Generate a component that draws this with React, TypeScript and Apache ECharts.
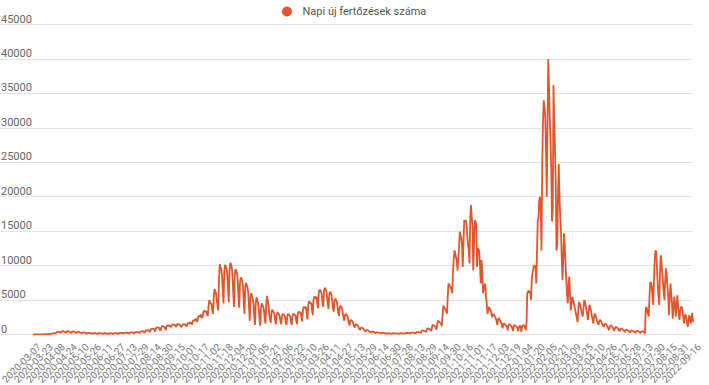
import React, { useEffect, useRef } from "react";
import * as echarts from "echarts";

const SERIES_NAME = "Napi új fertőzések száma";

// Reporting days (the source skips some dates), each [first, last] inclusive
const DATE_SEGMENTS: [string, string][] = [
  ["2020-03-07", "2021-06-30"],
  ["2021-07-13", "2022-06-12"],
  ["2022-07-13", "2022-07-13"],
  ["2022-07-15", "2022-09-16"],
];

const Y_MIN = 0;
const Y_MAX = 45000;
const Y_STEP = 5000;
const LABEL_EVERY = 16;

// Daily new infections
const wave2020Spring = [
  2, 1, 0, 5, 7, 9, 11,
  13, 8, 3, 11, 18, 25, 30,
  35, 20, 14, 40, 55, 60, 65,
  80, 60, 35, 90, 120, 150, 160,
  200, 150, 120, 250, 330, 350, 380,
  420, 300, 220, 400, 500, 480, 450,
  430, 320, 240, 420, 520, 470, 440,
  400, 300, 230, 380, 460, 430, 400,
  380, 280, 200, 330, 400, 380, 350,
  300, 220, 150, 260, 300, 280, 260,
  240, 180, 120, 200, 240, 230, 210,
  200, 150, 100, 180, 210, 200, 190,
  180, 140, 90, 160, 200, 190, 170,
  170, 130, 90, 150, 190, 180, 160,
  160, 120, 80, 150, 180, 170, 160,
  170, 130, 90, 160, 200, 190, 180,
  200, 150, 100, 190, 240, 230, 220,
  240, 180, 120, 230, 280, 270, 250,
  280, 200, 140, 260, 320, 310, 290,
  320, 230, 160, 300, 380, 360, 340,
  380, 280, 200, 380, 470, 450, 430,
  480, 350, 260, 500, 620, 600, 580,
  640, 480, 350, 680, 850, 820, 800,
  850, 620, 450, 880, 1050, 1020, 980,
  1000, 750, 550, 1000, 1200, 1180, 1150,
  1150, 880, 650, 1150, 1350, 1300, 1250,
  1350, 1200, 1050, 1350, 1500, 1450, 1400,
];

const wave2020Autumn = [
  1400, 1250, 1100, 1400, 1550, 1500, 1450,
  1400, 1200, 1050, 1350, 1500, 1480, 1420,
  1500, 1300, 1200, 1550, 1700, 1650, 1600,
  1800, 1600, 1450, 1900, 2100, 2050, 2000,
  2300, 2050, 1850, 2400, 2700, 2650, 2550,
  2900, 2600, 2400, 3100, 3500, 3400, 3300,
  3400, 3000, 2700, 4000, 5000, 4700, 4500,
  4400, 3600, 3000, 5200, 6600, 6300, 6000,
  5000, 4200, 3500, 8000, 10200, 9800, 9500,
  8500, 6500, 4500, 9000, 10100, 9900, 9600,
  8800, 6800, 4700, 9200, 10400, 10200, 9800,
  8500, 6000, 4000, 8500, 9500, 9300, 9000,
  7800, 5500, 3900, 7500, 8300, 8100, 7800,
  7000, 4800, 3000, 6800, 7500, 7200, 6800,
  6000, 4000, 2000, 5500, 6000, 5600, 5200,
  4500, 2500, 1400, 4500, 5400, 5000, 4600,
  3800, 2200, 1300, 3800, 4500, 4300, 4000,
  3500, 2200, 1600, 4500, 5600, 5000, 4200,
  3000, 2200, 1700, 3200, 3600, 3400, 3200,
  2800, 2000, 1500, 2900, 3200, 3100, 2900,
  2600, 1900, 1500, 2700, 3000, 2900, 2800,
  2600, 1800, 1400, 2700, 3000, 2900, 2750,
  2600, 1800, 1400, 2700, 3000, 2950, 2800,
  2800, 2000, 1500, 3000, 3300, 3200, 3100,
];

const wave2021Spring = [
  3300, 2500, 1900, 3600, 4000, 3900, 3800,
  4000, 3000, 2200, 4300, 4800, 4700, 4500,
  4600, 3600, 2800, 5000, 5500, 5400, 5200,
  5500, 4500, 3800, 6000, 6500, 6400, 6200,
  5800, 4600, 4000, 6300, 6800, 6600, 6400,
  5600, 4400, 3700, 5800, 6200, 6000, 5800,
  4800, 3800, 3300, 4900, 5200, 5000, 4800,
  4000, 3200, 2700, 3900, 4200, 4000, 3800,
  3100, 2400, 2000, 2800, 3000, 2900, 2700,
  2300, 1700, 1300, 2000, 2100, 2000, 1900,
  1600, 1200, 1000, 1400, 1500, 1400, 1300,
  1100, 800, 650, 950, 1000, 950, 900,
  750, 550, 450, 620, 650, 620, 580,
  480, 360, 300, 400, 420, 400, 380,
  330, 250, 200, 290, 300, 280, 260,
  240, 180, 150, 220, 240, 220, 200,
  190, 140, 120, 180, 200, 180, 170,
  170, 130, 100, 160, 180, 170, 160,
];

const wave2021Autumn = [
  150, 170, 160, 150, 140, 130, 100,
  160, 190, 180, 170, 160, 150, 110,
  190, 230, 220, 210, 200, 180, 130,
  240, 290, 280, 270, 250, 230, 160,
  300, 380, 360, 340, 320, 290, 200,
  480, 600, 580, 550, 500, 450, 350,
  700, 900, 870, 830, 760, 680, 500,
  1050, 1400, 1350, 1250, 1150, 1000, 700,
  1500, 2000, 1900, 1800, 1700, 1600, 1200,
  2600, 4200, 4000, 3800, 3600, 3400, 3000,
  5500, 7400, 7200, 7000, 6800, 6500, 6000,
  9000, 11000, 12200, 11800, 11200, 10800, 9300,
  11000, 12500, 14900, 14500, 14000, 13000, 9800,
  13500, 16600, 16400, 16600, 16000, 14500, 13000,
  12200, 10300, 17000, 18800, 17000, 15600, 9300,
  13000, 16600, 16400, 16000, 9800, 12500, 12400,
  12000, 10000, 7400, 10800, 9500, 6000, 6500,
  7000, 7400, 5500, 4500, 3000, 3500, 4000,
  3800, 3500, 3200, 2500, 2800, 3000, 2800,
  2600, 2300, 2000, 1400, 2200, 2400, 2200,
  2000, 1800, 1500, 900, 1500, 1600, 1500,
  1400, 1300, 1100, 600, 1300, 1500, 1400,
  1300, 1200, 1000, 500, 1200, 1400, 1300,
  1200, 1100, 900, 450, 1100, 1300, 1200,
  400, 1000, 1300, 1400, 1300, 1100, 600,
];

const wave2022Omicron = [
  1500, 6000, 6200, 6400, 6000, 6300, 5000,
  8000, 8900, 9500, 10000, 10000, 9800, 7400,
  12000, 16600, 17000, 19500, 20000, 18000, 12200,
  25000, 31000, 34000, 33000, 31600, 27000, 20000,
  30000, 40000, 36000, 31600, 28000, 24000, 16400,
  18000, 36200, 31000, 26800, 22000, 12200, 13000,
  20000, 24800, 20000, 17000, 14900, 11000, 7900,
  11000, 14700, 13000, 10300, 8000, 6000, 4500,
  7000, 8400, 6000, 3500, 4500, 5500, 5000,
  4700, 4000, 3500, 3000, 2500, 1800, 3500,
  4700, 4500, 4000, 3500, 3000, 2600, 3800,
  5000, 4700, 4200, 3500, 2800, 2100, 3500,
  4300, 4000, 3500, 2800, 2200, 1600, 2500,
  3050, 2800, 2400, 2000, 1700, 1400, 1900,
  2100, 2000, 1800, 1500, 1300, 1100, 1400,
  1600, 1500, 1300, 1100, 900, 630, 1100,
  1350, 1300, 1150, 1000, 850, 500, 900,
  1100, 1050, 950, 850, 700, 450, 750,
  870, 820, 750, 650, 550, 350, 600,
  700, 650, 600, 550, 450, 250, 500,
  600, 550, 500, 450, 400, 200, 450,
  550, 500, 450, 400, 350, 180, 400,
];

const wave2022Summer = [
  500, 450, 400, 300, 150, 3800, 4000,
  3500, 3000, 2600, 5500, 7600, 7500, 7000,
  5500, 4300, 8000, 11000, 12200, 12000, 9600,
  7000, 5500, 4300, 9000, 11500, 10500, 8900,
  7500, 6000, 5000, 8000, 9600, 8500, 6900,
  5500, 2800, 5500, 7400, 6000, 4500, 2300,
  4000, 5500, 4500, 2600, 4000, 5700, 4500,
  3000, 2100, 3500, 4000, 4000, 3500, 2500,
  1600, 2500, 3000, 2500, 1800, 1100, 2000,
  2800, 2200, 1600, 2500, 3150, 1800,
];

const dailyCases = [
  ...wave2020Spring,
  ...wave2020Autumn,
  ...wave2021Spring,
  ...wave2021Autumn,
  ...wave2022Omicron,
  ...wave2022Summer,
];

function buildDates(segments: [string, string][]): string[] {
  const out: string[] = [];
  for (const [s, e] of segments) {
    const d = new Date(s + "T00:00:00Z");
    const end = new Date(e + "T00:00:00Z");
    while (d.getTime() <= end.getTime()) {
      out.push(d.toISOString().slice(0, 10));
      d.setUTCDate(d.getUTCDate() + 1);
    }
  }
  return out;
}

const categories = buildDates(DATE_SEGMENTS);

const LINE_COLOR = "#e2562e";
const FONT = "Roboto, Arial, sans-serif";

export default function App() {
  const ref = useRef<HTMLDivElement>(null);

  useEffect(() => {
    document.body.style.margin = "0";
    if (!ref.current) return;
    const chart = echarts.init(ref.current, undefined, { renderer: "svg" });
    const gridPos = {
      right: 16,
      top: 24.5,
      bottom: 50.5,
      containLabel: false,
      outerBoundsMode: "none",
    };
    chart.setOption({
      animation: false,
      backgroundColor: "#ffffff",
      textStyle: { fontFamily: FONT },
      legend: {
        data: [SERIES_NAME],
        top: 1,
        left: 277,
        icon: "circle",
        itemWidth: 21,
        itemHeight: 10,
        textStyle: { fontSize: 11, color: "#555555", fontFamily: FONT },
      },
      grid: [
        { left: 0, ...gridPos },
        { left: 33, ...gridPos },
      ],
      xAxis: [
        { type: "value", gridIndex: 0, show: false, min: 0, max: 1 },
        {
          type: "category",
          gridIndex: 1,
          data: categories,
          boundaryGap: false,
          axisLine: { show: false },
          axisTick: { show: false },
          splitLine: { show: false },
          axisLabel: {
            interval: 0,
            formatter: (value: string, index: number) =>
              index % LABEL_EVERY === 0 ? value : "",
            rotate: 45,
            fontSize: 10,
            lineHeight: 10,
            verticalAlign: "top",
            padding: [4, 0, 0, 0],
            color: "#777777",
            margin: 4.5,
            fontFamily: FONT,
            hideOverlap: false,
          },
        },
      ],
      yAxis: [
        {
          type: "value",
          gridIndex: 0,
          min: Y_MIN,
          max: Y_MAX,
          interval: Y_STEP,
          axisLine: { show: false },
          axisTick: { show: false },
          axisLabel: {
            inside: true,
            margin: 1,
            verticalAlign: "bottom",
            color: "#666666",
            fontSize: 11,
            fontFamily: FONT,
            formatter: (v: number) => String(v),
          },
          splitLine: { lineStyle: { color: "#e3e3e3", width: 1 } },
        },
        {
          type: "value",
          gridIndex: 1,
          min: Y_MIN,
          max: Y_MAX,
          interval: Y_STEP,
          show: false,
          splitLine: { show: false },
        },
      ],
      series: [
        {
          name: SERIES_NAME,
          type: "line",
          xAxisIndex: 1,
          yAxisIndex: 1,
          data: dailyCases,
          showSymbol: false,
          symbol: "circle",
          lineStyle: { color: LINE_COLOR, width: 1.8 },
          itemStyle: { color: LINE_COLOR },
        },
      ],
    });
    return () => chart.dispose();
  }, []);

  return (
    <div
      ref={ref}
      style={{ position: "absolute", left: 0, top: 0, width: 709, height: 385 }}
    />
  );
}
